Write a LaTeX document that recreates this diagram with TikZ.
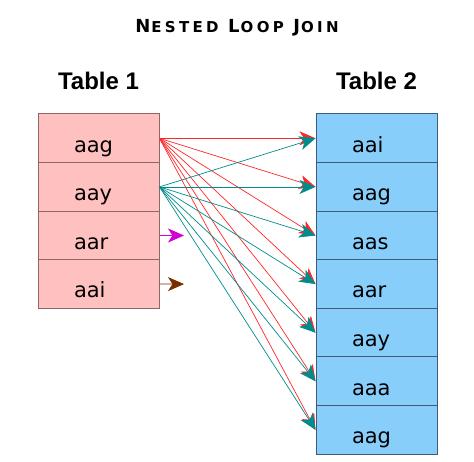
\documentclass[tikz,border=0pt]{standalone}
\usepackage{fontspec}
\setmainfont{DejaVu Sans}
\newfontfamily\headfont{Liberation Sans}
\newfontfamily\titlefont[LetterSpace=22]{DejaVu Sans}
\usetikzlibrary{arrows.meta}

\definecolor{rowpink}{RGB}{255,192,192}
\definecolor{pinkedge}{RGB}{140,104,104}
\definecolor{rowblue}{RGB}{135,206,250}
\definecolor{blueedge}{RGB}{62,92,122}
\definecolor{joinred}{RGB}{255,40,40}
\definecolor{jointeal}{RGB}{0,140,140}
\definecolor{joinmagenta}{RGB}{210,0,210}
\definecolor{joinbrown}{RGB}{122,44,0}

% small caps by hand
\newcommand\capword[2]{{\fontsize{18}{18}\selectfont #1\kern1pt}{\fontsize{15}{15}\selectfont #2}}

\tikzset{
  cell/.style={draw, line width=1pt, minimum width=121pt, minimum height=48.6pt,
    inner ysep=0pt, inner xsep=36pt, text width=49pt, align=left,
    text height=27.5pt, text depth=0pt, font=\fontsize{21}{21}\selectfont},
  cellone/.style={cell, fill=rowpink, draw=pinkedge},
  celltwo/.style={cell, fill=rowblue, draw=blueedge},
  joinarrow/.style={line width=0.7pt, -{Stealth[length=16pt, width=14pt, inset=4.5pt]}},
}

\begin{document}
\begin{tikzpicture}[x=1pt, y=-1pt]
    \useasboundingbox (0,0) rectangle (474,462);

    % titel
    \node (title) at (237,28) {\titlefont\bfseries \capword{N}{ESTED}\hspace{4pt} \capword{L}{OOP}\hspace{4pt} \capword{J}{OIN}};
    \node[font=\headfont\bfseries\fontsize{24}{24}\selectfont] (head1) at (98.5,81) {Table 1};
    \node[font=\headfont\bfseries\fontsize{24}{24}\selectfont] (head2) at (376.5,81) {Table 2};

    % Table 1
    \foreach \txt [count=\i] in {aag,aay,aar,aai}
      \node[cellone] (s\i) at (98.5, 138.3+48.6*\i-48.6) {\txt};

    % Table 2
    \foreach \txt [count=\i] in {aai,aag,aas,aar,aay,aaa,aag}
      \node[celltwo] (t\i) at (376.5, 138.3+48.6*\i-48.6) {\txt};

    % vergleiche
    \foreach \j in {1,...,7}
      \draw[joinarrow, joinred] (s1.east) -- (t\j.west);
    \foreach \j in {1,...,7}
      \draw[joinarrow, jointeal] (s2.east) -- (t\j.west);

    % noch nicht verglichen
    \coordinate (e3) at (184, 235.5);
    \coordinate (e4) at (184, 284.1);
    \draw[joinarrow, joinmagenta] (s3.east) -- (e3);
    \draw[joinarrow, joinbrown] (s4.east) -- (e4);
\end{tikzpicture}
\end{document}
